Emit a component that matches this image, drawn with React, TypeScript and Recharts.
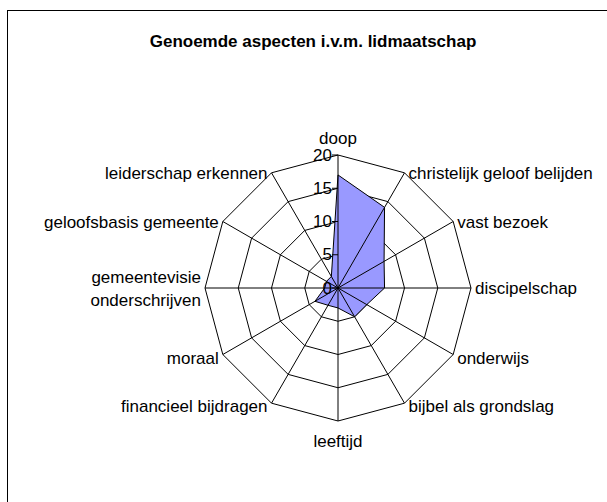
import React from "react";
import { RadarChart, Radar, PolarGrid, PolarAngleAxis, PolarRadiusAxis } from "recharts";

const categories = [
  "doop",
  "christelijk geloof belijden",
  "vast bezoek",
  "discipelschap",
  "onderwijs",
  "bijbel als grondslag",
  "leeftijd",
  "financieel bijdragen",
  "moraal",
  "gemeentevisie onderschrijven",
  "geloofsbasis gemeente",
  "leiderschap erkennen",
];
const counts = [17, 14, 8, 7, 5, 5, 3, 3, 4, 2, 2, 2];
const radiusTicks = [0, 5, 10, 15, 20];
const title = "Genoemde aspecten i.v.m. lidmaatschap";

const chartData = categories.map((c, i) => ({ aspect: c, value: counts[i] }));

const CX = 338;
const CY = 288;
const R = 133;
const FONT = "'Liberation Sans', Arial, sans-serif";

function AngleTick(props: any) {
  const { x, y, payload } = props;
  const dx = x - CX;
  const dy = y - CY;
  const len = Math.sqrt(dx * dx + dy * dy) || 1;
  const vx = CX + (dx / len) * R;
  const vy = CY + (dy / len) * R;
  const label: string = payload.value;
  const lines = label === "gemeentevisie onderschrijven" ? ["gemeentevisie", "onderschrijven"] : [label];

  let tx = vx;
  let ty = vy;
  let anchor: "start" | "middle" | "end" = "middle";
  if (Math.abs(dx) < 1) {
    ty = dy < 0 ? vy - 17 : vy + 20;
  } else {
    anchor = dx > 0 ? "start" : "end";
    tx = dx > 0 ? vx + 4 : vx - 4;
    ty = dy > 1 ? vy + 3 : vy;
  }
  const lh = 23;
  const y0 = ty - ((lines.length - 1) * lh) / 2;
  return (
    <text
      x={tx}
      y={y0}
      textAnchor={anchor}
      dominantBaseline="central"
      fontFamily={FONT}
      fontSize={17}
      fill="#000"
    >
      {lines.map((l, i) => (
        <tspan key={l} x={tx} y={y0 + i * lh}>
          {l}
        </tspan>
      ))}
    </text>
  );
}

function RadiusTick(props: any) {
  const { x, y, payload } = props;
  return (
    <g>
      <line x1={x - 6} y1={y} x2={x} y2={y} stroke="#000" />
      <text
        x={x - 6}
        y={y}
        textAnchor="end"
        dominantBaseline="central"
        fontFamily={FONT}
        fontSize={17}
        fill="#000"
      >
        {payload.value}
      </text>
    </g>
  );
}

export default function App() {
  return (
    <div style={{ position: "fixed", left: 0, top: 0, width: 607, height: 502, overflow: "hidden", background: "#fff" }}>
      <div
        style={{
          position: "absolute",
          left: 7,
          top: 10,
          width: 640,
          height: 540,
          borderLeft: "1px solid #000",
          borderTop: "1px solid #000",
        }}
      />
      <div
        style={{
          position: "absolute",
          left: 0,
          top: 31,
          width: 626,
          textAlign: "center",
          fontFamily: FONT,
          fontWeight: "bold",
          fontSize: 17,
          lineHeight: "22px",
        }}
      >
        {title}
      </div>
      <div style={{ position: "absolute", left: 0, top: 0 }}>
        <RadarChart
          width={607}
          height={502}
          data={chartData}
          cx={CX}
          cy={CY}
          outerRadius={R}
          margin={{ top: 0, right: 0, bottom: 0, left: 0 }}
        >
          <PolarGrid gridType="polygon" radialLines={false} stroke="#000" />
          <Radar
            dataKey="value"
            stroke="#000"
            strokeWidth={1}
            fill="#9999FF"
            fillOpacity={1}
            isAnimationActive={false}
          />
          {/* second grid: only the spokes, drawn over the filled area */}
          <PolarGrid gridType="polygon" polarRadius={[0]} stroke="#000" {...({ zIndex: 1000 } as any)} />
          <PolarAngleAxis dataKey="aspect" tick={<AngleTick />} tickLine={false} axisLine={false} />
          <PolarRadiusAxis
            angle={90}
            domain={[0, 20]}
            ticks={radiusTicks as any}
            tickCount={5}
            tick={<RadiusTick />}
            axisLine={false}
            tickLine={false}
          />
        </RadarChart>
      </div>
    </div>
  );
}
